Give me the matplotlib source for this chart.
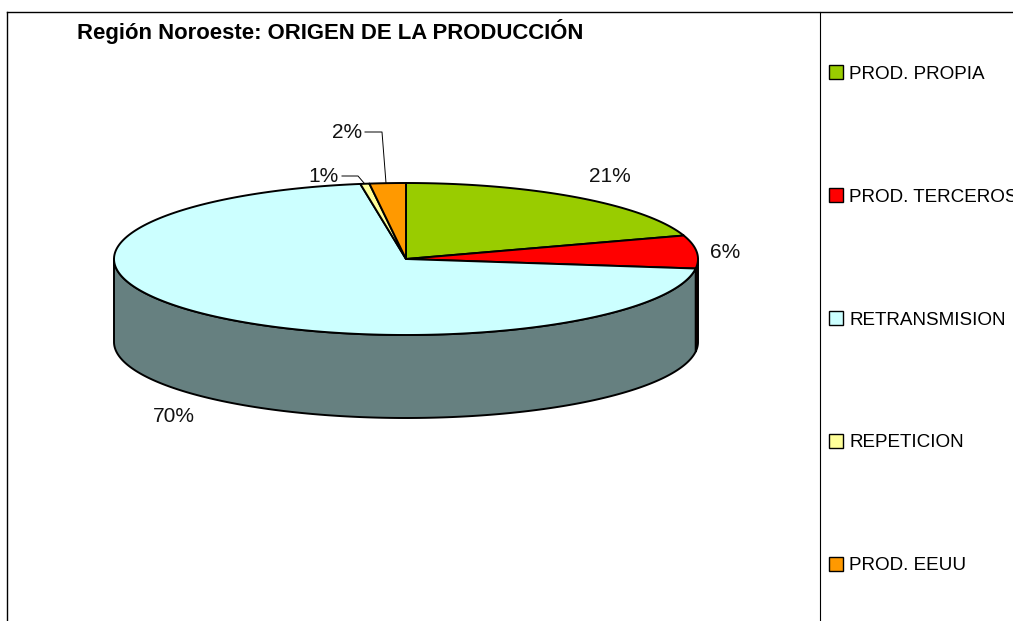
import numpy as np
import matplotlib
matplotlib.use("Agg")
import matplotlib.pyplot as plt
from matplotlib.patches import Patch

plt.rcParams["font.family"] = ["Liberation Sans", "DejaVu Sans"]

title = "Región Noroeste: ORIGEN DE LA PRODUCCIÓN"
categories = ["PROD. PROPIA", "PROD. TERCEROS", "RETRANSMISION", "REPETICION", "PROD. EEUU"]
# slice sizes, the printed labels are rounded differently
values = [20.0, 7.0, 70.5, 0.5, 2.0]
pct_labels = ["21%", "6%", "70%", "1%", "2%"]
colors = ["#99CC00", "#FF0000", "#CCFFFF", "#FFFF99", "#FF9900"]

cx, cy, rx, ry, depth = 406, 259, 292, 76, 83
W, H = 1013, 621


def ell(a):
    # a in degrees, clockwise from the top
    a = np.radians(a)
    return cx + rx * np.sin(a), cy - ry * np.cos(a)


fig = plt.figure(figsize=(W / 100, H / 100), dpi=100)
ax = fig.add_axes([0, 0, 1, 1])
ax.set_xlim(0, W)
ax.set_ylim(H, 0)
ax.axis("off")

edges = np.concatenate([[0], np.cumsum(values)]) / sum(values) * 360

# side wall, only the front half of the ellipse shows
for i, c in enumerate(colors):
    a0, a1 = max(edges[i], 90), min(edges[i + 1], 270)
    if a1 <= a0:
        continue
    x, y = ell(np.linspace(a0, a1, 200))
    rgb = np.array(matplotlib.colors.to_rgb(c)) * 0.5
    ax.fill(np.r_[x, x[::-1]], np.r_[y, y[::-1] + depth], fc=rgb, ec="black", lw=1.4, joinstyle="round")

# top face
for i, c in enumerate(colors):
    x, y = ell(np.linspace(edges[i], edges[i + 1], 200))
    ax.fill(np.r_[cx, x], np.r_[cy, y], fc=c, ec="black", lw=1.4, joinstyle="round")

# percent labels and leader lines
label_pos = [(610, 177), (725, 252), (174, 416), (324, 177), (347, 133)]
for t, (lx, ly) in zip(pct_labels, label_pos):
    ax.text(lx, ly, t, fontsize=15, ha="center", va="center", color="#111111")
ax.plot([342, 358, 364], [176, 176, 183], color="black", lw=0.7)
ax.plot([365, 382, 386], [132, 132, 183], color="black", lw=0.7)

ax.text(77, 32, title, fontsize=15.9, fontweight="bold", ha="left", va="center")

# outer frame and legend divider
ax.plot([7, 7], [H, 12], color="black", lw=1)
ax.plot([7, W], [12, 12], color="black", lw=1)
ax.plot([820, 820], [12, H], color="black", lw=0.8)

handles = [Patch(fc=c, ec="black", lw=1) for c in colors]
ax.legend(handles, categories, loc="upper left", bbox_to_anchor=(829 / W, 1 - 65.5 / H),
          frameon=False, fontsize=13.6, handlelength=0.74, handleheight=0.74,
          handletextpad=0.32, labelspacing=5.58, borderpad=0, borderaxespad=0)

fig.savefig("out.png", dpi=100)
